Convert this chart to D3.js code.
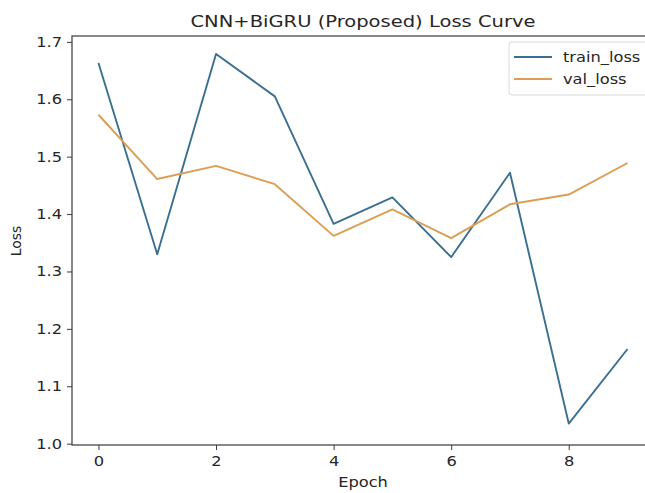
<!DOCTYPE html>
<html><head><meta charset="utf-8">
<script src="https://cdn.jsdelivr.net/npm/d3@7"></script>
<style>body{margin:0;background:#fff}svg{display:block}text{font-family:"DejaVu Sans",sans-serif;fill:#262626}</style>
</head><body>
<svg id="c" width="645" height="493"></svg>
<script>
const epochs = [0,1,2,3,4,5,6,7,8,9];
const trainLoss = [1.663,1.330,1.679,1.605,1.383,1.429,1.325,1.472,1.035,1.165];
const valLoss = [1.573,1.461,1.484,1.452,1.362,1.408,1.358,1.417,1.434,1.489];
const xTicks = [0,2,4,6,8];
const yTicks = [1.0,1.1,1.2,1.3,1.4,1.5,1.6,1.7];
const seriesNames = ["train_loss","val_loss"];
const colors = ["#3a6f92","#dc9d55"];

const SX = 1.17; // horizontal stretch of text in reference
const svg = d3.select("#c");
const L=72, R=654, T=36, B=445;
const x = d3.scaleLinear().domain([-0.45,9.45]).range([L,R]);
const y = d3.scaleLinear().domain([0.9977,1.7102]).range([B,T]);

function stext(px,py,str,size,anchor){
  return svg.append("text").attr("transform",`translate(${px},${py}) scale(${SX},1)`)
    .attr("text-anchor",anchor||"start").style("font-size",size+"px").text(str);
}

svg.append("defs").append("clipPath").attr("id","cp").append("rect").attr("x",L).attr("y",T).attr("width",R-L).attr("height",B-T);

const g = svg.append("g").attr("clip-path","url(#cp)");
const line = d3.line().x((d,i)=>x(epochs[i])).y(d=>y(d));
[trainLoss,valLoss].forEach((s,k)=>{
  g.append("path").attr("d",line(s)).attr("fill","none").attr("stroke",colors[k]).attr("stroke-width",1.9).attr("stroke-linejoin","round");
});

svg.append("rect").attr("x",L).attr("y",T).attr("width",R-L).attr("height",B-T).attr("fill","none").attr("stroke","#3a3a3a").attr("stroke-width",1.2);

const xa = svg.append("g").attr("transform",`translate(0,${B})`).call(d3.axisBottom(x).tickValues(xTicks).tickFormat(d3.format("d")).tickSize(5).tickPadding(6));
const ya = svg.append("g").attr("transform",`translate(${L},0)`).call(d3.axisLeft(y).tickValues(yTicks).tickFormat(d3.format(".1f")).tickSize(5).tickPadding(5));
[xa,ya].forEach(a=>{
  a.select(".domain").remove();
  a.selectAll("line").attr("stroke","#3a3a3a").attr("stroke-width",1);
  a.selectAll("text").style("font-family","DejaVu Sans").style("font-size","13.9px").attr("fill","#333")
    .each(function(){const t=d3.select(this);const xx=+t.attr("x")||0;t.attr("x",xx/SX).attr("transform",`scale(${SX},1)`);});
});

stext((L+R)/2,27,"CNN+BiGRU (Proposed) Loss Curve",16.7,"middle");
stext(363,487,"Epoch",13.9,"middle");
svg.append("text").attr("transform","translate(21,241) rotate(-90)").attr("text-anchor","middle").style("font-size","13.9px").text("Loss");

const lg = svg.append("g");
svg.append("rect").attr("x",509).attr("y",42).attr("width",145).attr("height",53).attr("rx",3).attr("fill","#fff").attr("fill-opacity",0.8).attr("stroke","#d8d8d8");
seriesNames.forEach((n,k)=>{
  const yy = 57 + k*22;
  svg.append("line").attr("x1",514).attr("x2",552).attr("y1",yy).attr("y2",yy).attr("stroke",colors[k]).attr("stroke-width",1.9);
  stext(563,yy,n,13.9).attr("dy","0.35em");
});
</script>
</body></html>
